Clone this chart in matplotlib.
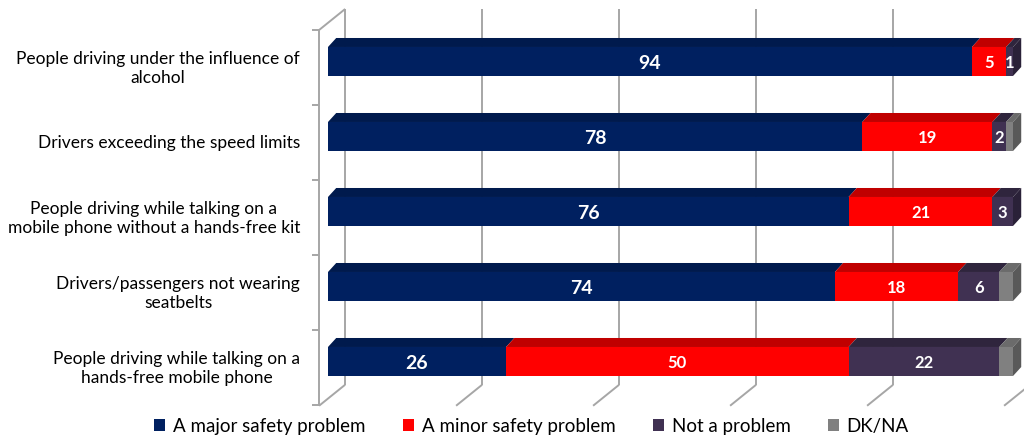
import matplotlib.pyplot as plt
from matplotlib.patches import Polygon, Patch

plt.rcParams['font.family'] = ['Lato', 'DejaVu Sans']

categories = [
    'People driving under the influence of\nalcohol',
    'Drivers exceeding the speed limits',
    'People driving while talking on a\nmobile phone without a hands-free kit',
    'Drivers/passengers not wearing\nseatbelts',
    'People driving while talking on a\nhands-free mobile phone',
]
series_names = ['A major safety problem', 'A minor safety problem', 'Not a problem', 'DK/NA']
major = [94, 78, 76, 74, 26]
minor = [5, 19, 21, 18, 50]
not_problem = [1, 2, 3, 6, 22]
dk_na = [0, 1, 0, 2, 2]

front_colors = ['#002060', '#ff0000', '#403152', '#808080']
top_colors = ['#001a4d', '#c00000', '#2f253d', '#6b6b6b']
side_colors = ['#001640', '#a00000', '#2a2138', '#595959']

fig = plt.figure(figsize=(10.24, 4.39), dpi=100)
ax = fig.add_axes([328 / 1024, 33 / 439, 685 / 1024, 375 / 439])
ax.set_xlim(0, 100)
ax.set_ylim(4.5, -0.5)
ax.axis('off')

# depth of the 3d boxes, in data units
dx, dy = 1.2, 0.12
bar_h = 0.387
bar_off = -0.08

# walls and gridlines
grid_kw = dict(color='#a6a6a6', lw=1.4, zorder=1, clip_on=False, solid_capstyle='butt')
back_x, front_x = 2.5, -1.3
wall_top, floor_back, floor_front = -0.78, 4.23, 4.51
for v in range(0, 101, 20):
    ax.plot([v + back_x, v + back_x], [wall_top, floor_back], **grid_kw)
    ax.plot([v + back_x, v + front_x], [floor_back, floor_front], **grid_kw)
ax.plot([front_x, front_x], [-0.5, floor_front], **grid_kw)
ax.plot([front_x, back_x], [-0.5, wall_top], **grid_kw)
for k in range(len(categories) + 1):
    ax.plot([front_x - 1.0, front_x], [k - 0.5, k - 0.5], **grid_kw)

data = [major, minor, not_problem, dk_na]
for i, cat in enumerate(categories):
    yc = i + bar_off
    y0, y1 = yc + bar_h / 2, yc - bar_h / 2
    left = 0
    last = max(j for j in range(4) if data[j][i] > 0)
    for j in range(4):
        w = data[j][i]
        if w <= 0:
            continue
        r = left + w
        ax.add_patch(Polygon([(left, y0), (r, y0), (r, y1), (left, y1)], closed=True,
                             fc=front_colors[j], ec='none', zorder=3, clip_on=False))
        ax.add_patch(Polygon([(left, y1), (r, y1), (r + dx, y1 - dy), (left + dx, y1 - dy)],
                             closed=True, fc=top_colors[j], ec='none', zorder=3, clip_on=False))
        if j == last:
            ax.add_patch(Polygon([(r, y0), (r, y1), (r + dx, y1 - dy), (r + dx, y0 - dy)],
                                 closed=True, fc=side_colors[j], ec='none', zorder=3,
                                 clip_on=False))
        if j < 3:
            ax.text(left + w / 2, yc + 0.01, str(w), ha='center', va='center',
                    color='white', fontweight='bold', clip_on=False,
                    fontsize=14 if j == 0 else 12, zorder=4)
        left = r
    ax.text(-4.1, i, cat, ha='right', va='center', multialignment='center',
            fontsize=12.5, color='black', linespacing=1.25)

handles = [Patch(fc=c, ec='none') for c in front_colors]
fig.legend(handles, series_names, loc='center', bbox_to_anchor=(0.519, 0.028),
           ncol=4, frameon=False, fontsize=13.5, handlelength=0.6, handleheight=0.6,
           handletextpad=0.4, columnspacing=2.0)

fig.savefig('out.png', dpi=100)
